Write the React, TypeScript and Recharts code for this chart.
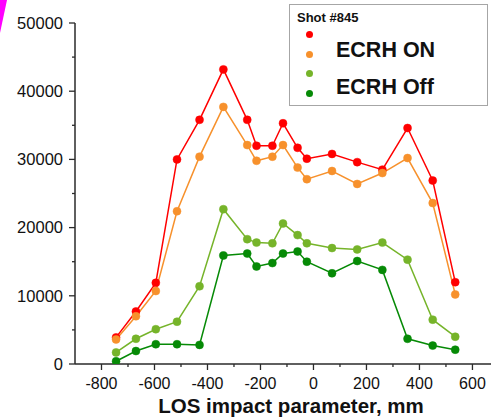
import { LineChart, Line, XAxis, YAxis } from "recharts";

// LOS impact parameter, mm
const POSITIONS = [-745, -670, -595, -515, -430, -340, -250, -215, -155, -115, -60, -25, 70, 165, 260, 355, 450, 535];

// ECRH ON (two traces)
const ON_RED = [3900, 7700, 11900, 30000, 35800, 43200, 35800, 32000, 32000, 35300, 31700, 30100, 30800, 29600, 28500, 34600, 26900, 12000];
const ON_ORANGE = [3600, 7000, 10700, 22400, 30400, 37700, 32100, 29800, 30400, 32100, 28800, 27100, 28300, 26400, 28000, 30200, 23600, 10200];

// ECRH Off (two traces)
const OFF_LIGHT = [1700, 3700, 5100, 6200, 11400, 22700, 18300, 17800, 17700, 20600, 18900, 17700, 17000, 16800, 17800, 15300, 6500, 4000];
const OFF_DARK = [400, 1900, 2900, 2900, 2800, 15900, 16200, 14300, 14800, 16200, 16500, 15000, 13300, 15100, 13800, 3700, 2700, 2100];

const X_TICKS = [-800, -700, -600, -500, -400, -300, -200, -100, 0, 100, 200, 300, 400, 500, 600];
const Y_TICKS = [0, 5000, 10000, 15000, 20000, 25000, 30000, 35000, 40000, 45000, 50000];

const data = POSITIONS.map((x, i) => ({
  x,
  onRed: ON_RED[i],
  onOrange: ON_ORANGE[i],
  offLight: OFF_LIGHT[i],
  offDark: OFF_DARK[i],
}));

const RED = "#ff0000";
const ORANGE = "#f7912c";
const LIGHT_GREEN = "#76b42a";
const DARK_GREEN = "#068a06";
const AXIS = "#2a2a2a";
const TEXT = "#111";
const FONT = "'Liberation Sans', Arial, sans-serif";

function XTick({ x, y, payload }: any) {
  const major = payload.value % 200 === 0;
  return (
    <g>
      <line x1={x} x2={x} y1={y} y2={y + (major ? 6 : 3)} stroke={AXIS} strokeWidth={1.3} />
      {major && (
        <text x={x} y={y + 14} dy="0.71em" textAnchor="middle" fill={TEXT} fontSize={16} fontFamily={FONT}>
          {payload.value}
        </text>
      )}
    </g>
  );
}

function YTick({ x, y, payload }: any) {
  const major = payload.value % 10000 === 0;
  return (
    <g>
      <line x1={x - (major ? 6 : 3)} x2={x} y1={y} y2={y} stroke={AXIS} strokeWidth={1.3} />
      {major && (
        <text x={x - 12} y={y} dy="0.355em" textAnchor="end" fill={TEXT} fontSize={16.5} fontFamily={FONT}>
          {payload.value}
        </text>
      )}
    </g>
  );
}

const dot = (c: string) => ({ r: 4, fill: c, stroke: c, strokeWidth: 0.5 });

const LEGEND_DOTS = [
  { color: RED, top: 30 },
  { color: ORANGE, top: 50 },
  { color: LIGHT_GREEN, top: 69 },
  { color: DARK_GREEN, top: 89 },
];

export default function App() {
  return (
    <div style={{ position: "absolute", left: 0, top: 0, width: 491, height: 419, background: "#fff", fontFamily: FONT }}>
      <svg width={10} height={36} style={{ position: "absolute", left: 0, top: 0 }}>
        <polygon points="0,0 7,0 0,33" fill="#ff00ff" />
      </svg>

      <LineChart width={491} height={419} data={data} margin={{ top: 23, right: 0, bottom: 0, left: 0 }}>
        <XAxis
          type="number"
          dataKey="x"
          domain={[-900, 670]}
          ticks={X_TICKS}
          interval={0}
          height={55}
          tickSize={0}
          tickMargin={0}
          tickLine={false}
          tick={<XTick />}
          axisLine={{ stroke: AXIS, strokeWidth: 1.5 }}
          allowDataOverflow
          label={{
            value: "LOS impact parameter, mm",
            position: "insideBottom",
            offset: 6,
            dx: 8,
            style: { fontSize: 20.5, fontWeight: 700, fill: "#111", fontFamily: FONT },
          }}
        />
        <YAxis
          type="number"
          domain={[0, 50000]}
          ticks={Y_TICKS}
          interval={0}
          width={75}
          tickSize={0}
          tickMargin={0}
          tickLine={false}
          tick={<YTick />}
          axisLine={{ stroke: AXIS, strokeWidth: 1.5 }}
          allowDataOverflow
        />
        <Line dataKey="onRed" stroke={RED} strokeWidth={1.5} dot={dot(RED)} activeDot={false} isAnimationActive={false} />
        <Line dataKey="onOrange" stroke={ORANGE} strokeWidth={1.5} dot={dot(ORANGE)} activeDot={false} isAnimationActive={false} />
        <Line dataKey="offLight" stroke={LIGHT_GREEN} strokeWidth={1.5} dot={dot(LIGHT_GREEN)} activeDot={false} isAnimationActive={false} />
        <Line dataKey="offDark" stroke={DARK_GREEN} strokeWidth={1.5} dot={dot(DARK_GREEN)} activeDot={false} isAnimationActive={false} />
      </LineChart>

      <div
        style={{
          position: "absolute",
          left: 289,
          top: 4,
          width: 199,
          height: 102,
          border: "1.5px solid #a6a6a6",
          boxSizing: "border-box",
          background: "#fff",
        }}
      >
        <div style={{ position: "absolute", left: 7, top: 6, fontSize: 13, lineHeight: "13px", fontWeight: 700, color: "#111" }}>
          Shot #845
        </div>
        {LEGEND_DOTS.map((d) => (
          <span
            key={d.color}
            style={{
              position: "absolute",
              left: 16,
              top: d.top - 4,
              width: 7,
              height: 7,
              borderRadius: "50%",
              background: d.color,
            }}
          />
        ))}
        <div style={{ position: "absolute", left: 46, top: 35, fontSize: 21.5, lineHeight: "20px", fontWeight: 700, color: "#111" }}>
          ECRH ON
        </div>
        <div style={{ position: "absolute", left: 46, top: 72, fontSize: 21.5, lineHeight: "20px", fontWeight: 700, color: "#111" }}>
          ECRH Off
        </div>
      </div>
    </div>
  );
}
